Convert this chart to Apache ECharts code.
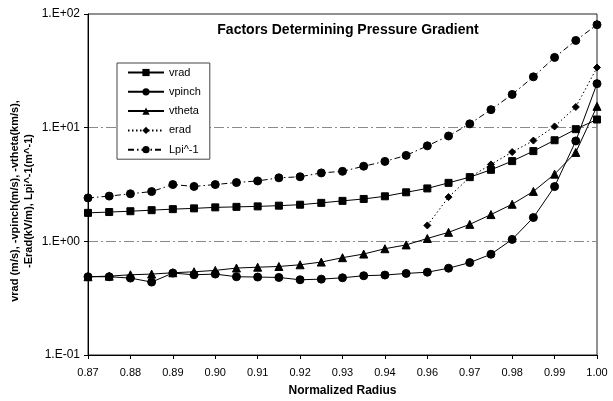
<!DOCTYPE html>
<html>
<head>
<meta charset="utf-8">
<script src="https://cdn.jsdelivr.net/npm/echarts@6/dist/echarts.min.js"></script>
<style>
html,body{margin:0;padding:0;background:#fff;}
#chart{width:613px;height:401px;}
</style>
</head>
<body>
<div id="chart"></div>
<script>
// ---- data ----
const categories = ['0.87','0.875','0.88','0.885','0.89','0.895','0.90','0.905','0.91','0.915','0.92','0.925','0.93','0.935','0.94','0.95','0.96','0.965','0.97','0.975','0.98','0.985','0.99','0.995','1.00'];
const vrad   = [1.78,1.81,1.84,1.88,1.92,1.95,1.99,2.01,2.03,2.06,2.10,2.18,2.27,2.36,2.49,2.70,2.92,3.27,3.67,4.26,5.08,6.22,7.75,9.7,11.8];
const vpinch = [0.488,0.488,0.475,0.438,0.526,0.508,0.515,0.488,0.485,0.481,0.459,0.465,0.478,0.498,0.505,0.522,0.535,0.58,0.65,0.77,1.04,1.62,3.03,7.64,24.4];
const vtheta = [0.488,0.494,0.508,0.515,0.529,0.540,0.555,0.582,0.592,0.601,0.622,0.657,0.718,0.773,0.861,0.93,1.06,1.20,1.41,1.72,2.12,2.75,3.9,6.06,15.4];
const erad   = [null,null,null,null,null,null,null,null,null,null,null,null,null,null,null,null,1.38,2.45,3.66,4.75,6.1,7.7,10.25,15.2,33.8];
const lpiInv = [2.41,2.50,2.62,2.74,3.16,3.04,3.16,3.29,3.40,3.62,3.70,4.00,4.13,4.58,5.05,5.70,6.92,8.45,10.8,14.4,19.6,28.0,41.5,58.5,80.5];
const yTickLabels = {'-1':'1.E-01','0':'1.E+00','1':'1.E+01','2':'1.E+02'};
const seriesNames = ['vrad','vpinch','vtheta','erad','Lpi^-1'];
const titleText = 'Factors Determining Pressure Gradient';
const xAxisTitle = 'Normalized Radius';
const yAxisTitle = ['vrad (m/s), -vpinch(m/s), -vtheta(km/s),', '-Erad(kV/m), Lpi^-1(m^-1)'];

const FONT = '"Liberation Sans", Arial, sans-serif';
const chart = echarts.init(document.getElementById('chart'), null, {renderer:'canvas'});

function mk(name, data, symbol, size, lineType) {
  return {
    name: name, type: 'line', data: data, symbol: symbol, symbolSize: size,
    connectNulls: false, animation: false,
    lineStyle: {color:'#000', width:1, type: lineType},
    itemStyle: {color:'#000', borderColor:'#000'},
    emphasis: {disabled: true}
  };
}

chart.setOption({
  backgroundColor: '#fff',
  animation: false,
  textStyle: {fontFamily: FONT},
  grid: {left: 88, right: 16, top: 14, bottom: 46, show: true, borderColor: '#222', borderWidth: 1, backgroundColor: 'transparent', outerBoundsMode: 'none', containLabel: false},
  xAxis: {
    type: 'category', data: categories, boundaryGap: false,
    axisLine: {show: true, onZero: false, lineStyle: {color: '#000', width: 1}},
    axisTick: {show: true, inside: false, length: 4, interval: 1, lineStyle: {color: '#000'}},
    axisLabel: {interval: 1, color: '#000', fontSize: 11, fontFamily: FONT, margin: 12},
    splitLine: {show: false},
    name: xAxisTitle, nameLocation: 'middle', nameGap: 30,
    nameTextStyle: {color: '#000', fontWeight: 'bold', fontSize: 12, fontFamily: FONT}
  },
  yAxis: {
    type: 'log', logBase: 10, min: 0.1, max: 100, interval: 1,
    axisLine: {show: true, lineStyle: {color: '#000', width: 1}},
    axisTick: {show: true, inside: false, length: 4, lineStyle: {color: '#000'}},
    minorTick: {show: false},
    axisLabel: {color: '#000', fontSize: 12, fontFamily: FONT, margin: 8,
      formatter: function(v){ const e = Math.round(Math.log10(v)); return yTickLabels[String(e)] || ''; }},
    splitLine: {show: true, lineStyle: {color: ['rgba(0,0,0,0)', '#8a8a8a', '#8a8a8a', 'rgba(0,0,0,0)'], width: 1, type: [10,3,2,3]}}
  },
  legend: {
    show: true, orient: 'vertical', left: 117, top: 63,
    padding: [4, 9, 4, 10], itemWidth: 36, itemHeight: 9, itemGap: 8.3,
    backgroundColor: '#fff', borderColor: '#444', borderWidth: 1,
    textStyle: {color: '#000', fontSize: 11, fontFamily: FONT},
    data: seriesNames, selectedMode: false
  },
  graphic: [
    {type: 'text', x: 348, y: 30,
      style: {text: titleText, align: 'center', verticalAlign: 'middle', fill: '#000', font: 'bold 14px ' + FONT}},
    {type: 'text', x: 22, y: 201, rotation: Math.PI/2,
      style: {text: yAxisTitle.join('\n'), align: 'center', verticalAlign: 'middle', fill: '#000', font: 'bold 11px ' + FONT, lineHeight: 14}}
  ],
  series: [
    mk(seriesNames[0], vrad, 'rect', 7, 'solid'),
    mk(seriesNames[1], vpinch, 'circle', 8, 'solid'),
    mk(seriesNames[2], vtheta, 'triangle', 8, 'solid'),
    mk(seriesNames[3], erad, 'diamond', 7, [1.5, 2.5]),
    mk(seriesNames[4], lpiInv, 'circle', 8, [6, 3, 1.5, 3])
  ]
});
</script>
</body>
</html>
